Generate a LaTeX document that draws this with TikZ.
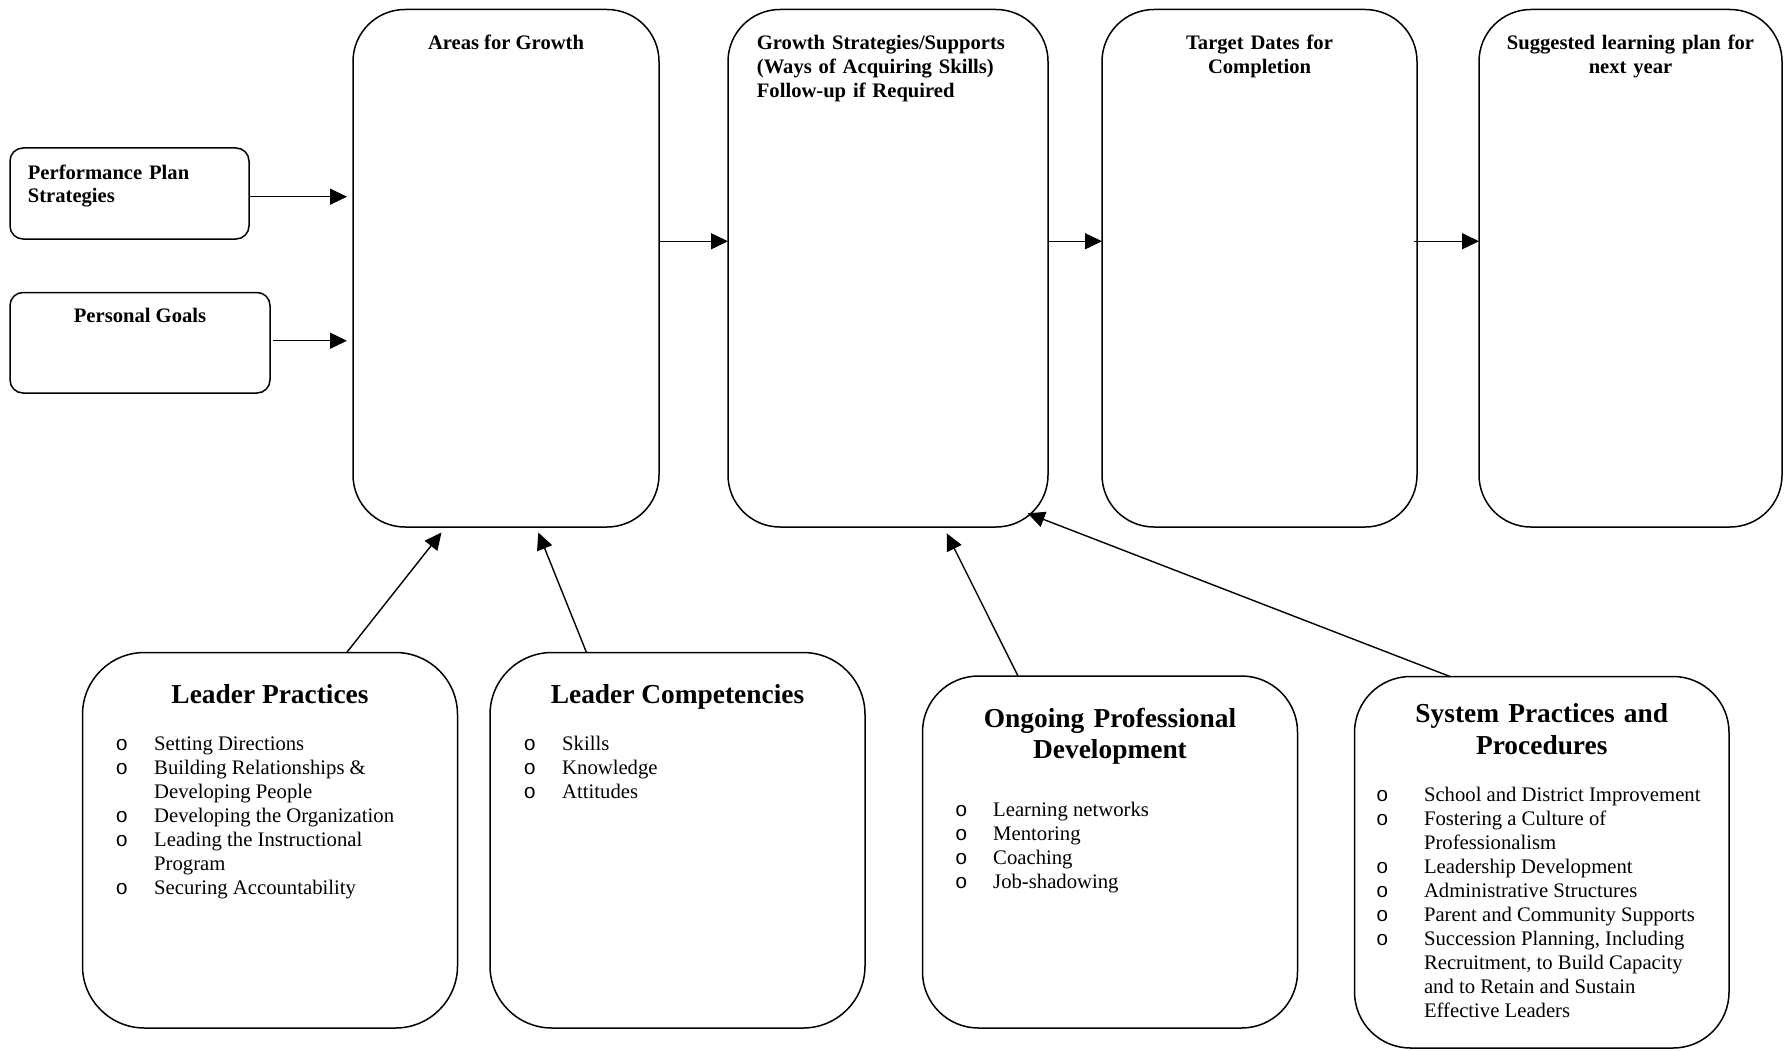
\documentclass[tikz,border=0pt]{standalone}
\usepackage{fontspec}
\setmainfont{Liberation Serif}
\setmonofont{Liberation Mono}
\usetikzlibrary{arrows.meta,calc}

% bullet marker "o" in a fixed-width cell; continuation lines leave the cell empty
\newlength\bulhang
\newcommand\bm{\makebox[\bulhang][l]{\ttfamily o}}

\tikzset{
  box/.style={draw, line width=1.5pt, inner sep=0pt, outer sep=0pt, anchor=north west},
  tallbox/.style={box, rounded corners=52pt},
  lowbox/.style={box, rounded corners=#1},
  smallbox/.style={box, rounded corners=13pt},
  arr/.style={line width=1.4pt, -{Triangle[length=17pt,width=16pt]}},
  headtxt/.style={font=\bfseries\fontsize{20.6}{24}\selectfont, inner sep=0pt, anchor=base},
  bigtxt/.style={font=\bfseries\fontsize{27.4}{31.4}\selectfont, inner sep=0pt, anchor=base},
  bullets/.style={font=\fontsize{20.7}{24}\selectfont, inner sep=0pt, anchor=base west,
                  execute at begin node={\setlength\bulhang{#1}}},
}

\begin{document}
\begin{tikzpicture}[x=1pt, y=-1pt]
\useasboundingbox (0,0) rectangle (1784,1051);

% ---- input boxes on the left ----
\node[smallbox, minimum width=239, minimum height=91] (perf) at (10,148) {};
\node[smallbox, minimum width=260, minimum height=100.5] (pg) at (10,292.5) {};
\node[headtxt, anchor=base west, text width=210, align=left] (perfT)
  at ($(perf.north west)+(17.7,31)$) {Performance Plan\\Strategies};
\node[headtxt] (pgT) at ($(pg.north)+(0,29.7)$) {Personal Goals};

% ---- the four tall columns ----
\node[tallbox, minimum width=306, minimum height=517.5] (areas) at (353,9.5) {};
\node[tallbox, minimum width=320, minimum height=517.5] (gs) at (728,9.5) {};
\node[tallbox, minimum width=315, minimum height=517.5] (td) at (1102,9.5) {};
\node[tallbox, minimum width=303, minimum height=517.5] (sl) at (1479,9.5) {};

\node[headtxt] (areasT) at ($(areas.north)+(0,40.5)$) {Areas for Growth};
\node[headtxt, anchor=base west, text width=290, align=left] (gsT)
  at ($(gs.north west)+(28.7,40.5)$) {Growth Strategies/Supports\\(Ways of Acquiring Skills)\\Follow-up if Required};
\node[headtxt, text width=290, align=center] (tdT) at ($(td.north)+(0,40.5)$) {Target Dates for\\Completion};
\node[headtxt, text width=290, align=center] (slT) at ($(sl.north)+(0,40.5)$) {Suggested learning plan for\\next year};

% ---- the four source boxes at the bottom ----
\node[lowbox=62pt, minimum width=375, minimum height=375.5] (lp) at (82.5,652.5) {};
\node[lowbox=62pt, minimum width=375, minimum height=375.5] (lc) at (490,652.5) {};
\node[lowbox=56pt, minimum width=375, minimum height=352] (opd) at (922.5,676) {};
\node[lowbox=56pt, minimum width=374.5, minimum height=371.5] (sp) at (1354.5,676.5) {};

\node[bigtxt] (lpT) at ($(lp.north)+(0,50.7)$) {Leader Practices};
\node[bigtxt] (lcT) at ($(lc.north)+(0,50.7)$) {Leader Competencies};
\node[bigtxt, text width=360, align=center] (opdT) at ($(opd.north)+(0,51)$) {Ongoing Professional\\Development};
\node[bigtxt, text width=360, align=center] (spT) at ($(sp.north)+(0,46.2)$) {System Practices and\\Procedures};

\node[bullets=38.5pt] (lpL) at ($(lp.north west)+(33,98)$) {%
  \begin{tabular}[t]{@{}l@{}l@{}}
  \bm & Setting Directions\\
  \bm & Building Relationships \&\\
      & Developing People\\
  \bm & Developing the Organization\\
  \bm & Leading the Instructional\\
      & Program\\
  \bm & Securing Accountability
  \end{tabular}};

\node[bullets=38.5pt] (lcL) at ($(lc.north west)+(33.5,98)$) {%
  \begin{tabular}[t]{@{}l@{}l@{}}
  \bm & Skills\\
  \bm & Knowledge\\
  \bm & Attitudes
  \end{tabular}};

\node[bullets=38.2pt] (opdL) at ($(opd.north west)+(32.3,140.5)$) {%
  \begin{tabular}[t]{@{}l@{}l@{}}
  \bm & Learning networks\\
  \bm & Mentoring\\
  \bm & Coaching\\
  \bm & Job-shadowing
  \end{tabular}};

\node[bullets=48pt] (spL) at ($(sp.north west)+(21.3,124.5)$) {%
  \begin{tabular}[t]{@{}l@{}l@{}}
  \bm & School and District Improvement\\
  \bm & Fostering a Culture of\\
      & Professionalism\\
  \bm & Leadership Development\\
  \bm & Administrative Structures\\
  \bm & Parent and Community Supports\\
  \bm & Succession Planning, Including\\
      & Recruitment, to Build Capacity\\
      & and to Retain and Sustain\\
      & Effective Leaders
  \end{tabular}};

% ---- connectors ----
\draw[arr] ($(perf.east)+(0,3.2)$) -- ($(perf.east -| areas.west)+(-6,3.2)$);
\draw[arr] ($(pg.east)+(3,-2)$) -- ($(pg.east -| areas.west)+(-6,-2)$);
\draw[arr] ($(areas.east)+(0,-27)$) -- ($(areas.east -| gs.west)+(0,-27)$);
\draw[arr] ($(gs.east)+(0,-27)$) -- ($(gs.east -| td.west)+(0,-27)$);
\draw[arr] ($(td.east)+(-3,-27)$) -- ($(td.east -| sl.west)+(0,-27)$);

\draw[arr] ($(lp.north west)+(264.2,0)$) -- ($(areas.south west)+(88.5,5.5)$);
\draw[arr] ($(lc.north west)+(96.5,0)$) -- ($(areas.south west)+(185.3,5.5)$);
\draw[arr] ($(opd.north west)+(95.5,0)$) -- ($(gs.south west)+(218.7,6.3)$);
\draw[arr] ($(sp.north west)+(95.5,0)$) -- ($(gs.south east)+(-20.3,-13.7)$);
\end{tikzpicture}
\end{document}
